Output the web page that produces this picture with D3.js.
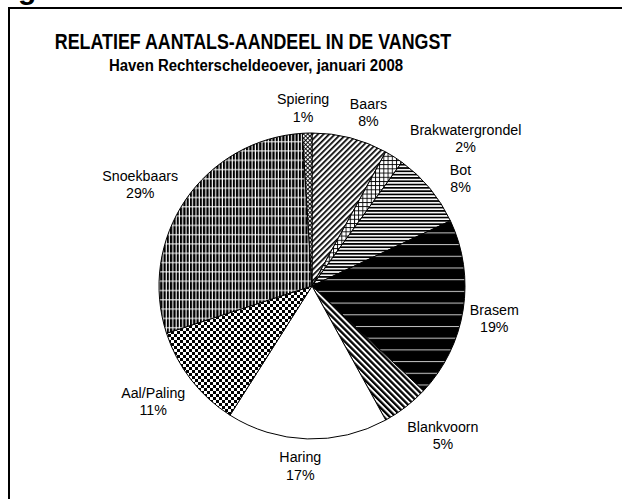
<!DOCTYPE html>
<html>
<head>
<meta charset="utf-8">
<script src="https://cdn.jsdelivr.net/npm/d3@7"></script>
<style>
  html, body { margin: 0; padding: 0; background: #fff; }
  text { font-family: "Liberation Sans", Arial, sans-serif; fill: #000; }
</style>
</head>
<body>
<div id="chart"></div>
<script>
// slices, clockwise from 12 o'clock
var soorten = ['Baars', 'Brakwatergrondel', 'Bot', 'Brasem', 'Blankvoorn', 'Haring', 'Aal/Paling', 'Snoekbaars', 'Spiering'];
var aandeel = [8, 2, 8, 19, 5, 17, 11, 29, 1];
var patroon = ['baars', 'brakw', 'bot', 'brasem', 'blank', 'haring', 'aal', 'snoek', 'spiering'];
// small hand nudges so the labels sit where Excel put them
var labelShift = [[12, -2], [38, 2], [17, 5], [0, 4], [11, 9], [-6, 2], [-7, 6], [-8, -2], [-3, -1]];

var width = 622, height = 499;
var cx = 312, cy = 286, r = 153;

var svg = d3.select('#chart')
    .append('svg')
    .attr('width', width)
    .attr('height', height);

var defs = svg.append('defs');

function pat(id, w, h, rot){
    var p = defs.append('pattern')
        .attr('id', id)
        .attr('patternUnits', 'userSpaceOnUse')
        .attr('width', w)
        .attr('height', h);
    if(rot) p.attr('patternTransform', 'rotate(' + rot + ')');
    return p;
}

// Baars: "/" hatching
var p = pat('baars', 4, 4, 45);
p.append('rect').attr('width', 4).attr('height', 4).attr('fill', '#fff');
p.append('rect').attr('width', 1.7).attr('height', 4).attr('fill', '#000');

// Brakwatergrondel: square grid
p = pat('brakw', 4.2, 4.2);
p.append('rect').attr('width', 4.2).attr('height', 4.2).attr('fill', '#fff');
p.append('rect').attr('width', 4.2).attr('height', 0.9).attr('fill', '#000');
p.append('rect').attr('width', 0.9).attr('height', 4.2).attr('fill', '#000');

// Bot: horizontal lines
p = pat('bot', 3.3, 3.3);
p.append('rect').attr('width', 3.3).attr('height', 3.3).attr('fill', '#fff');
p.append('rect').attr('width', 3.3).attr('height', 1.7).attr('fill', '#000');

// Brasem: black with thin white lines
p = pat('brasem', 12, 11.7);
p.append('rect').attr('width', 12).attr('height', 11.7).attr('fill', '#000');
p.append('rect').attr('y', 5).attr('width', 12).attr('height', 0.9).attr('fill', '#ddd');

// Blankvoorn: "\" hatching
p = pat('blank', 4.3, 4.3, -45);
p.append('rect').attr('width', 4.3).attr('height', 4.3).attr('fill', '#fff');
p.append('rect').attr('width', 2.3).attr('height', 4.3).attr('fill', '#000');

// Aal/Paling: checkerboard
p = pat('aal', 6, 6);
p.append('rect').attr('width', 6).attr('height', 6).attr('fill', '#fff');
p.append('rect').attr('width', 3).attr('height', 3).attr('fill', '#000');
p.append('rect').attr('x', 3).attr('y', 3).attr('width', 3).attr('height', 3).attr('fill', '#000');

// Snoekbaars: vertical bars cut by white horizontal lines
p = pat('snoek', 3.3, 9.3);
p.append('rect').attr('width', 3.3).attr('height', 9.3).attr('fill', '#fff');
p.append('rect').attr('width', 2.2).attr('height', 9.3).attr('fill', '#000');
p.append('rect').attr('y', 4).attr('width', 3.3).attr('height', 1).attr('fill', '#fff');

// Spiering: fine diagonal cross hatch
p = pat('spiering', 3, 3, 45);
p.append('rect').attr('width', 3).attr('height', 3).attr('fill', '#fff');
p.append('rect').attr('width', 0.9).attr('height', 3).attr('fill', '#000');
p.append('rect').attr('width', 3).attr('height', 0.9).attr('fill', '#000');

// frame (runs off the right and bottom of the picture)
svg.append('rect')
    .attr('x', 9)
    .attr('y', 8)
    .attr('width', 700)
    .attr('height', 600)
    .attr('fill', 'none')
    .attr('stroke', '#000')
    .attr('stroke-width', 2);

// cut-off figure heading above the frame
svg.append('text')
    .attr('x', 18)
    .attr('y', -1)
    .attr('font-size', 30)
    .attr('font-weight', 'bold')
    .text('g');

function squashed(x, y, sx, size, bold, str){
    return svg.append('text')
        .attr('transform', 'translate(' + x + ',' + y + ') scale(' + sx + ',1)')
        .attr('text-anchor', 'middle')
        .attr('font-size', size)
        .attr('font-weight', bold ? 'bold' : 'normal')
        .text(str);
}

squashed(253, 49, 0.83, 21.5, true, 'RELATIEF AANTALS-AANDEEL IN DE VANGST');
squashed(256, 71, 0.88, 17, true, 'Haven Rechterscheldeoever, januari 2008');

var pie = d3.pie().sort(null).value(function(d){ return d.v; });
var arc = d3.arc().innerRadius(0).outerRadius(r);

var data = soorten.map(function(s, i){
    return {naam: s, v: aandeel[i], fill: patroon[i], shift: labelShift[i]};
});
var arcs = pie(data);

var g = svg.append('g').attr('transform', 'translate(' + cx + ',' + cy + ')');

g.selectAll('path')
    .data(arcs)
    .enter()
    .append('path')
    .attr('d', arc)
    .attr('fill', function(d){ return d.data.fill == 'haring' ? '#fff' : 'url(#' + d.data.fill + ')'; })
    .attr('stroke', '#000')
    .attr('stroke-width', 1);

// labels outside the pie
var sx = 0.95, fs = 15, lh = 17.5;
arcs.forEach(function(d){
    var a = (d.startAngle + d.endAngle) / 2;
    var lbl = g.append('g');
    var t1 = lbl.append('text').attr('text-anchor', 'middle').attr('font-size', fs).text(d.data.naam);
    var t2 = lbl.append('text').attr('text-anchor', 'middle').attr('font-size', fs).attr('y', lh)
        .text(Math.round(d.data.v) + '%');
    var w = Math.max(t1.node().getComputedTextLength(), t2.node().getComputedTextLength()) * sx;
    var h = 35;
    var rl = r + 7;
    var px = rl * Math.sin(a) + w / 2 * Math.sin(a) + d.data.shift[0];
    var py = -rl * Math.cos(a) - h / 2 * Math.cos(a) + d.data.shift[1];
    lbl.attr('transform', 'translate(' + px + ',' + (py - 3.25) + ') scale(' + sx + ',1)');
});
</script>
</body>
</html>
